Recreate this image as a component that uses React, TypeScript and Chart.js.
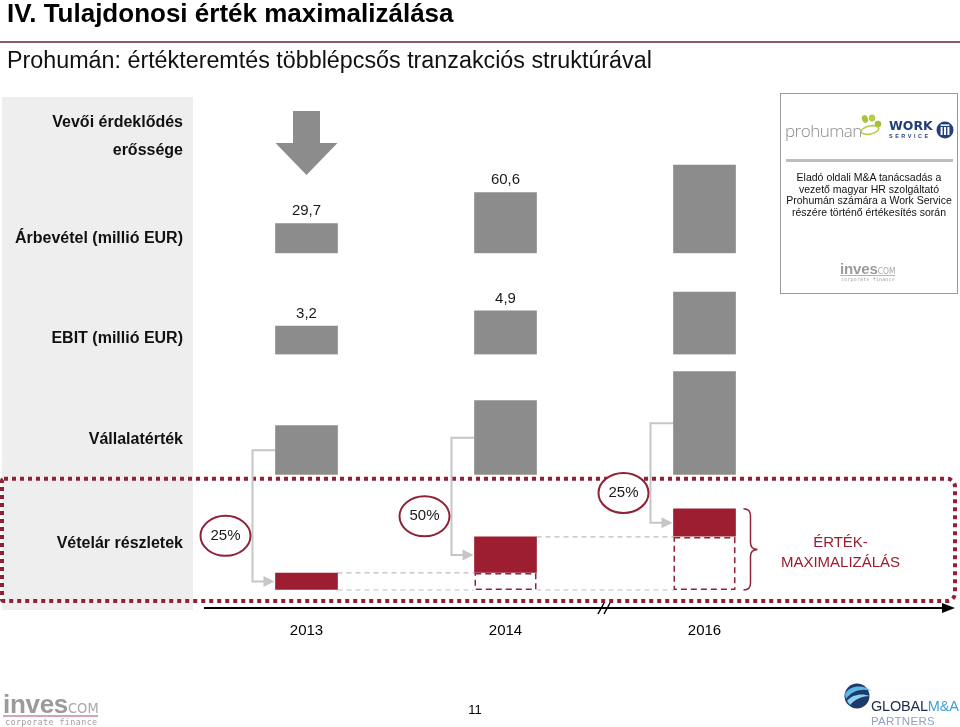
import React, { useEffect, useRef } from "react";
import { Chart, registerables } from "chart.js";

Chart.register(...registerables);

// ---------------- data ----------------
const years = ["2013", "2014", "2016"];
const revenue = [29.7, 60.6, 88];
const revenueLabels = ["29,7", "60,6", ""];
const ebit = [3.2, 4.9, 7.0];
const ebitLabels = ["3,2", "4,9", ""];
const enterpriseValue = [49, 74, 103];
const paidEarlier = [0, 17, 53];
const installment = [17, 36, 28];
const installmentShare = ["25%", "50%", "25%"];
const buyerInterest = [true, false, false];
const maxText = ["ÉRTÉK-", "MAXIMALIZÁLÁS"];

// ---------------- styles ----------------
const FONT = "'Liberation Sans', Arial, Helvetica, sans-serif";
const GREY = "#8c8c8c";
const RED = "#9d1d31";
const DOT_RED = "#8f2236";
const LINK = "#c6c6c6";

function box(el: any) {
  const p = el.getProps(["x", "y", "base", "width"], true);
  return {
    x: p.x,
    left: p.x - p.width / 2,
    right: p.x + p.width / 2,
    top: Math.min(p.y, p.base),
    bottom: Math.max(p.y, p.base),
    width: p.width,
  };
}

const slidePlugin = {
  id: "slide",
  beforeDatasetsDraw(chart: any) {
    const ctx = chart.ctx as CanvasRenderingContext2D;
    const area = chart.chartArea;
    const yEv = chart.scales.yEv;
    const yPrice = chart.scales.yPrice;
    const evMeta = chart.getDatasetMeta(2);
    const instMeta = chart.getDatasetMeta(4);
    const zero = yPrice.getPixelForValue(0);
    ctx.save();

    // dotted frame around the purchase-price row
    ctx.strokeStyle = DOT_RED;
    ctx.lineWidth = 4;
    ctx.setLineDash([4, 4]);
    ctx.beginPath();
    const fTop = yEv.bottom + 4;
    ctx.roundRect(2, fTop, chart.width - 7, area.bottom + 11 - fTop, [2, 8, 8, 2]);
    ctx.stroke();

    // grey dashed connectors between installments
    ctx.strokeStyle = "#bdbdbd";
    ctx.lineWidth = 1.2;
    ctx.setLineDash([5, 4]);
    for (let i = 0; i < years.length - 1; i++) {
      const a = box(instMeta.data[i]);
      const b = box(instMeta.data[i + 1]);
      ctx.beginPath();
      ctx.moveTo(a.right, a.top);
      ctx.lineTo(b.left, a.top);
      ctx.moveTo(a.right, zero);
      ctx.lineTo(b.left, zero);
      ctx.stroke();
    }
    ctx.setLineDash([]);

    // elbow arrows from enterprise value to installment + share ellipses
    for (let i = 0; i < years.length; i++) {
      const ev = box(evMeta.data[i]);
      const ins = box(instMeta.data[i]);
      const sy = (ev.top + ev.bottom) / 2;
      const ey = (ins.top + ins.bottom) / 2;
      const ex = ev.left - 23;
      ctx.strokeStyle = LINK;
      ctx.lineWidth = 2;
      ctx.beginPath();
      ctx.moveTo(ev.left, sy);
      ctx.lineTo(ex, sy);
      ctx.lineTo(ex, ey);
      ctx.lineTo(ins.left - 9, ey);
      ctx.stroke();
      ctx.fillStyle = LINK;
      ctx.beginPath();
      ctx.moveTo(ins.left - 1, ey);
      ctx.lineTo(ins.left - 12, ey - 5.5);
      ctx.lineTo(ins.left - 12, ey + 5.5);
      ctx.closePath();
      ctx.fill();

      const cx = ex - 27;
      const cy = (sy + ey) / 2 + 20;
      ctx.beginPath();
      ctx.ellipse(cx, cy, 25, 20, 0, 0, Math.PI * 2);
      ctx.fillStyle = "#ffffff";
      ctx.fill();
      ctx.strokeStyle = DOT_RED;
      ctx.lineWidth = 2;
      ctx.stroke();
      ctx.fillStyle = "#1a1a1a";
      ctx.font = `15px ${FONT}`;
      ctx.textAlign = "center";
      ctx.textBaseline = "middle";
      ctx.fillText(installmentShare[i], cx, cy);
    }
    ctx.restore();
  },
  afterDatasetsDraw(chart: any) {
    const ctx = chart.ctx as CanvasRenderingContext2D;
    const area = chart.chartArea;
    const yRev = chart.scales.yRev;
    const xs = chart.scales.x;
    const revMeta = chart.getDatasetMeta(0);
    const ebitMeta = chart.getDatasetMeta(1);
    const paidMeta = chart.getDatasetMeta(3);
    const instMeta = chart.getDatasetMeta(4);
    ctx.save();

    // dashed outlines of the already paid part
    ctx.strokeStyle = DOT_RED;
    ctx.lineWidth = 1.5;
    ctx.setLineDash([6, 4]);
    for (let i = 0; i < years.length; i++) {
      if (!paidEarlier[i]) continue;
      const b = box(paidMeta.data[i]);
      ctx.strokeRect(b.left + 0.75, b.top + 0.75, b.width - 1.5, b.bottom - b.top - 1.5);
    }
    ctx.setLineDash([]);

    // value labels
    ctx.fillStyle = "#1a1a1a";
    ctx.font = `15px ${FONT}`;
    ctx.textAlign = "center";
    ctx.textBaseline = "middle";
    for (let i = 0; i < years.length; i++) {
      const r = box(revMeta.data[i]);
      if (revenueLabels[i]) ctx.fillText(revenueLabels[i], r.x, r.top - 13);
      const e = box(ebitMeta.data[i]);
      if (ebitLabels[i]) ctx.fillText(ebitLabels[i], e.x, e.top - 12);
    }

    // buyer interest arrow
    ctx.fillStyle = GREY;
    for (let i = 0; i < years.length; i++) {
      if (!buyerInterest[i]) continue;
      const r = box(revMeta.data[i]);
      const t = yRev.top + 11;
      ctx.beginPath();
      ctx.moveTo(r.x - 13.5, t);
      ctx.lineTo(r.x + 13.5, t);
      ctx.lineTo(r.x + 13.5, t + 32);
      ctx.lineTo(r.right, t + 32);
      ctx.lineTo(r.x, t + 64);
      ctx.lineTo(r.left, t + 32);
      ctx.lineTo(r.x - 13.5, t + 32);
      ctx.closePath();
      ctx.fill();
    }

    // brace + "érték-maximalizálás"
    const last = years.length - 1;
    const top = box(instMeta.data[last]).top;
    const pb = box(paidMeta.data[last]);
    const bot = pb.bottom;
    const bx = pb.right + 8;
    const d = 7;
    const mid = (top + bot) / 2;
    ctx.strokeStyle = DOT_RED;
    ctx.lineWidth = 1.5;
    ctx.beginPath();
    ctx.moveTo(bx, top);
    ctx.quadraticCurveTo(bx + d, top, bx + d, top + d);
    ctx.lineTo(bx + d, mid - d);
    ctx.quadraticCurveTo(bx + d, mid, bx + 2 * d, mid);
    ctx.quadraticCurveTo(bx + d, mid, bx + d, mid + d);
    ctx.lineTo(bx + d, bot - d);
    ctx.quadraticCurveTo(bx + d, bot, bx, bot);
    ctx.stroke();
    ctx.fillStyle = "#9b1c2e";
    ctx.font = `15px ${FONT}`;
    ctx.fillText(maxText[0], pb.right + 105, mid - 7);
    ctx.fillText(maxText[1], pb.right + 105, mid + 13);

    // time axis with arrow and break
    const ay = area.bottom + 18;
    ctx.strokeStyle = "#000";
    ctx.fillStyle = "#000";
    ctx.lineWidth = 2;
    ctx.beginPath();
    ctx.moveTo(area.left - 3, ay);
    ctx.lineTo(945, ay);
    ctx.stroke();
    ctx.beginPath();
    ctx.moveTo(955, ay);
    ctx.lineTo(942, ay - 5);
    ctx.lineTo(942, ay + 5);
    ctx.closePath();
    ctx.fill();
    const brk = (xs.getPixelForValue(1) + xs.getPixelForValue(2)) / 2;
    ctx.lineWidth = 1.5;
    ctx.beginPath();
    ctx.moveTo(brk - 7, ay + 6);
    ctx.lineTo(brk - 1, ay - 5);
    ctx.moveTo(brk - 1, ay + 6);
    ctx.lineTo(brk + 5, ay - 5);
    ctx.stroke();
    ctx.restore();
  },
};

function ChartLayer() {
  const ref = useRef<HTMLCanvasElement | null>(null);
  useEffect(() => {
    if (!ref.current) return;
    const chart = new Chart(ref.current, {
      type: "bar",
      data: {
        labels: years,
        datasets: [
          { label: "Árbevétel", data: revenue, yAxisID: "yRev", backgroundColor: GREY, stack: "all" },
          { label: "EBIT", data: ebit, yAxisID: "yEbit", backgroundColor: GREY, stack: "all" },
          { label: "Vállalatérték", data: enterpriseValue, yAxisID: "yEv", backgroundColor: GREY, stack: "all" },
          { label: "Korábban fizetett", data: paidEarlier, yAxisID: "yPrice", backgroundColor: "#ffffff", stack: "all" },
          { label: "Vételár részlet", data: installment, yAxisID: "yPrice", backgroundColor: RED, stack: "all" },
        ],
      },
      options: {
        animation: false,
        responsive: false,
        devicePixelRatio: 1,
        events: [],
        layout: { padding: { top: 100, left: 207, right: 156, bottom: 55 } },
        datasets: { bar: { barThickness: 62, borderWidth: 0 } },
        plugins: { legend: { display: false }, tooltip: { enabled: false } },
        scales: {
          x: {
            type: "category",
            offset: true,
            stacked: true,
            grid: { display: false, drawTicks: false },
            border: { display: false },
            ticks: { padding: 32, color: "#000", font: { size: 15, family: FONT } },
          },
          yRev: { type: "linear", position: "left", stack: "rows", stackWeight: 153, weight: 4, min: 0, max: 153, display: false, stacked: true },
          yEbit: { type: "linear", position: "left", stack: "rows", stackWeight: 101, weight: 3, min: 0, max: 11.35, display: false, stacked: true },
          yEv: { type: "linear", position: "left", stack: "rows", stackWeight: 120, weight: 2, min: 0, max: 120, display: false, stacked: true },
          yPrice: { type: "linear", position: "left", stack: "rows", stackWeight: 115, weight: 1, min: 0, max: 115, display: false, stacked: true },
        },
      } as any,
      plugins: [slidePlugin as any],
    });
    return () => chart.destroy();
  }, []);
  return (
    <canvas
      ref={ref}
      width={960}
      height={727}
      style={{ position: "absolute", left: 0, top: 0, width: 960, height: 727, zIndex: 1 }}
    />
  );
}

function RowLabel({ cy, children }: { cy: number; children: React.ReactNode }) {
  return (
    <div
      style={{
        position: "absolute",
        left: 3,
        width: 180,
        top: cy - 8,
        fontSize: 16,
        lineHeight: "16px",
        fontWeight: 700,
        textAlign: "right",
        color: "#111",
        whiteSpace: "nowrap",
      }}
    >
      {children}
    </div>
  );
}

function InvescomLogo({ left, top, scale }: { left: number; top: number; scale: number }) {
  return (
    <div style={{ position: "absolute", left, top, width: 96 * scale, height: 36 * scale }}>
      <div style={{ position: "absolute", left: 0, top: 0, whiteSpace: "nowrap", lineHeight: 1 }}>
        <span style={{ fontSize: 26 * scale, fontWeight: 700, color: "#9b9b9b", letterSpacing: -0.3 * scale }}>inves</span>
        <span
          style={{
            fontSize: 14.5 * scale,
            color: "#a8a8a8",
            fontFamily: "'Liberation Sans Narrow', 'DejaVu Sans Condensed', Arial, sans-serif",
          }}
        >
          COM
        </span>
      </div>
      <div style={{ position: "absolute", left: 0, top: 24 * scale, width: 95 * scale, height: Math.max(1, 2 * scale), background: "#d6a4ad" }} />
      <div
        style={{
          position: "absolute",
          left: 2 * scale,
          top: 27 * scale,
          fontSize: 8.4 * scale,
          lineHeight: 1,
          letterSpacing: 0.4 * scale,
          color: "#a0a0a0",
          fontFamily: "'DejaVu Sans Mono', 'Liberation Mono', monospace",
          whiteSpace: "nowrap",
        }}
      >
        corporate finance
      </div>
    </div>
  );
}

export default function App() {
  return (
    <div
      style={{
        position: "relative",
        width: 960,
        height: 727,
        overflow: "hidden",
        background: "#ffffff",
        fontFamily: FONT,
        color: "#000",
      }}
    >
      <style>{`html,body{margin:0;padding:0;background:#fff;}`}</style>

      {/* grey label panel */}
      <div style={{ position: "absolute", left: 2, top: 97, width: 191, height: 513, background: "#eeeeee", zIndex: 0 }} />

      <ChartLayer />

      <div style={{ position: "absolute", inset: 0, zIndex: 2, pointerEvents: "none" }}>
        <div style={{ position: "absolute", left: 7, top: -0.5, fontSize: 26, lineHeight: "26px", fontWeight: 700, whiteSpace: "nowrap" }}>
          IV. Tulajdonosi érték maximalizálása
        </div>
        <div style={{ position: "absolute", left: 0, top: 41, width: 960, height: 2, background: "#8d5b67" }} />
        <div style={{ position: "absolute", left: 7, top: 49, fontSize: 23.3, lineHeight: "23.3px", whiteSpace: "nowrap", color: "#111" }}>
          Prohumán: értékteremtés többlépcsős tranzakciós struktúrával
        </div>

        <RowLabel cy={122}>Vevői érdeklődés</RowLabel>
        <RowLabel cy={150}>erőssége</RowLabel>
        <RowLabel cy={238}>Árbevétel (millió EUR)</RowLabel>
        <RowLabel cy={338}>EBIT (millió EUR)</RowLabel>
        <RowLabel cy={439}>Vállalatérték</RowLabel>
        <RowLabel cy={543}>Vételár részletek</RowLabel>

        {/* reference box */}
        <div
          style={{
            position: "absolute",
            left: 780,
            top: 93,
            width: 178,
            height: 201,
            boxSizing: "border-box",
            border: "1px solid #9a9a9a",
            background: "#fff",
          }}
        >
          <div style={{ position: "absolute", left: 4, top: 28, fontSize: 17, lineHeight: "17px", color: "#8a8a8a", fontWeight: 300, fontFamily: "'Open Sans', 'Noto Sans', sans-serif", letterSpacing: -0.5 }}>
            prohuman
          </div>
          <svg style={{ position: "absolute", left: 77, top: 20 }} width={24} height={22} viewBox="0 0 24 22">
            <ellipse cx={7} cy={5} rx={3} ry={4} fill="#a8c43a" transform="rotate(-20 7 5)" />
            <ellipse cx={14} cy={4} rx={3.2} ry={3.6} fill="#b5cd45" />
            <ellipse cx={20} cy={10} rx={3.3} ry={3.3} fill="#a2bf35" />
            <ellipse cx={12} cy={16} rx={9} ry={4} fill="none" stroke="#b5cd45" strokeWidth={1.6} transform="rotate(-12 12 16)" />
          </svg>
          <div style={{ position: "absolute", left: 108, top: 25, fontSize: 12.5, lineHeight: "13px", fontWeight: 900, color: "#233f77", fontFamily: "'DejaVu Sans', sans-serif" }}>
            WORK
          </div>
          <div style={{ position: "absolute", left: 108, top: 39, fontSize: 5.5, lineHeight: "6px", fontWeight: 700, color: "#233f77", letterSpacing: 2.5 }}>
            SERVICE
          </div>
          <svg style={{ position: "absolute", left: 155, top: 27 }} width={18} height={18} viewBox="0 0 18 18">
            <circle cx={9} cy={9} r={8.5} fill="#223f7a" />
            <rect x={4.6} y={6} width={2} height={8} fill="#fff" />
            <rect x={8} y={6} width={2} height={8} fill="#fff" />
            <rect x={11.4} y={6} width={2} height={8} fill="#fff" />
            <rect x={4.6} y={3.4} width={8.8} height={1.5} fill="#fff" />
          </svg>
          <div style={{ position: "absolute", left: 5, top: 65, width: 167, height: 3, background: "#bdbdbd" }} />
          <div
            style={{
              position: "absolute",
              left: 0,
              width: 176,
              top: 78,
              fontSize: 10.5,
              lineHeight: "11.7px",
              textAlign: "center",
              color: "#111",
            }}
          >
            Eladó oldali M&amp;A tanácsadás a<br />
            vezető magyar HR szolgáltató<br />
            Prohumán számára a Work Service<br />
            részére történő értékesítés során
          </div>
          <InvescomLogo left={59} top={167} scale={0.58} />
        </div>

        {/* footer */}
        <InvescomLogo left={3} top={691} scale={1} />
        <div style={{ position: "absolute", left: 465, width: 20, top: 703, fontSize: 13, lineHeight: "13px", textAlign: "center" }}>11</div>
        <svg style={{ position: "absolute", left: 843, top: 681 }} width={30} height={28} viewBox="0 0 30 28">
          <circle cx={14} cy={15} r={12.5} fill="#1d3a6c" />
          <path d="M2 13 C 6 4, 22 3, 28 10 C 20 7, 9 9, 3 18 Z" fill="#5cb8e8" />
          <path d="M4 20 C 9 13, 20 12, 27 15 C 20 15, 12 18, 7 24 Z" fill="#8fd0f2" />
        </svg>
        <div style={{ position: "absolute", left: 871, top: 699, fontSize: 14.5, lineHeight: "15px", whiteSpace: "nowrap", letterSpacing: -0.2 }}>
          <span style={{ color: "#1c2b4c" }}>GLOBAL</span>
          <span style={{ color: "#3a9fd8" }}>M&amp;A</span>
        </div>
        <div style={{ position: "absolute", left: 871, top: 715, fontSize: 11.5, lineHeight: "12px", color: "#8ea3bb", whiteSpace: "nowrap", letterSpacing: 0.3 }}>
          PARTNERS
        </div>
      </div>
    </div>
  );
}
